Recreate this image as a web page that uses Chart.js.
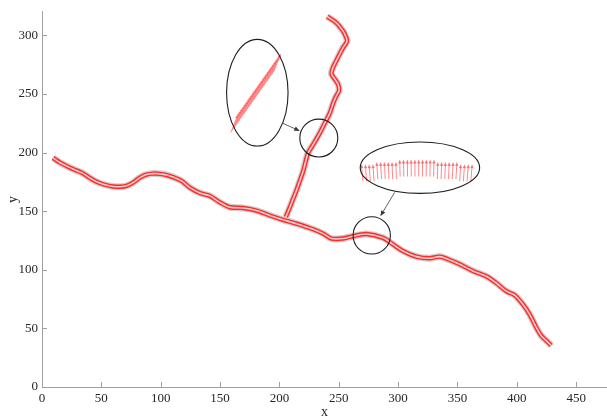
<!DOCTYPE html>
<html>
<head>
<meta charset="utf-8">
<script src="https://cdn.jsdelivr.net/npm/chart.js@4/dist/chart.umd.min.js"></script>
<style>
  html, body { margin: 0; padding: 0; background: #ffffff; }
  #c { display: block; }
</style>
</head>
<body>
<canvas id="c" width="607" height="419"></canvas>
<script>
// Main road centre line (x, y)
const mainRoadX = [9.3, 15, 20.8, 27, 33.4, 40, 46, 53, 60, 66, 71.3, 77, 82.5, 88, 93.7, 99, 105, 111, 117.6, 124.6, 133, 141.4, 149.8, 158.2, 169.4, 180.7, 192, 203, 214.4, 228.4, 236.8, 243.9, 253.6, 262, 273.3, 287.3, 295.7, 304, 315.4, 326.6, 335, 342, 351.9, 363, 374.3, 382.7, 391.2, 398.2, 405.2, 410.8, 416.4, 420.6, 424.8, 429];
const mainRoadY = [195.4, 191.5, 188.4, 185.5, 182.8, 178.5, 175, 172.5, 171, 170.8, 171.6, 174.5, 178.6, 181.2, 182, 181.8, 180.8, 178.8, 175.8, 170, 165.4, 163, 157.5, 153.3, 152.7, 150.5, 146.3, 142.6, 139.3, 134.5, 130.8, 126.6, 126.6, 128.6, 130.5, 127.2, 121.6, 116, 111.2, 109.8, 111.2, 109, 104.7, 99, 94.4, 88.7, 81.7, 78.3, 70.4, 62, 50.8, 43.8, 39.6, 35.4];

// Branch road centre line (x, y), from its junction northwards
const branchRoadX = [205.4, 208.5, 211.5, 214.5, 217.2, 220, 222.2, 224.2, 228.4, 234, 238.2, 242.4, 245.2, 247.5, 250.3, 249.5, 247.5, 243.9, 245.2, 248, 250.8, 253.7, 257, 255.5, 253.7, 248, 240.2];
const branchRoadY = [145, 152.5, 160.3, 168, 175.8, 184, 192.6, 199.7, 206.7, 216.5, 225, 233.4, 241.8, 247.3, 253, 258, 261.4, 267, 272.6, 278.3, 284, 289.5, 295, 300, 303.5, 310.6, 316];

// Axis ticks
const xTicks = [0, 50, 100, 150, 200, 250, 300, 350, 400, 450];
const yTicks = [0, 50, 100, 150, 200, 250, 300];

const toPoints = (xs, ys) => xs.map((x, i) => ({ x: x, y: ys[i] }));
const mainPts = toPoints(mainRoadX, mainRoadY);
const branchPts = toPoints(branchRoadX, branchRoadY);

// Road band: soft grey shadow underneath, red body, pale core on top
function roadLayers(pts) {
  const base = { data: pts, showLine: true, pointRadius: 0, tension: 0.3, fill: false, borderCapStyle: 'butt', borderJoinStyle: 'round' };
  return [
    Object.assign({}, base, { borderColor: 'rgba(150,150,150,0.45)', borderWidth: 7, order: 3 }),
    Object.assign({}, base, { borderColor: '#ff2a2a', borderWidth: 4.4, order: 2 }),
    Object.assign({}, base, { borderColor: '#ffcaca', borderWidth: 1.6, order: 1 })
  ];
}

// Callouts: circle on the road, magnified ellipse, connecting arrow (data units)
const callouts = [
  { circle: { x: 233.2, y: 212.3, r: 16 }, ellipse: { x: 181.4, y: 251, rx: 25.9, ry: 45.5 },
    arrowFrom: { x: 202.9, y: 224.9 }, arrowTo: { x: 217.2, y: 218.4 }, kind: 'diagonal' },
  { circle: { x: 277.8, y: 129.3, r: 15.7 }, ellipse: { x: 318.4, y: 187, rx: 50.3, ry: 21.9 },
    arrowFrom: { x: 297.1, y: 166 }, arrowTo: { x: 285.1, y: 145.7 }, kind: 'arch' }
];

function drawArrow(ctx, x0, y0, x1, y1, head, color, width) {
  const a = Math.atan2(y1 - y0, x1 - x0);
  ctx.strokeStyle = color;
  ctx.fillStyle = color;
  ctx.lineWidth = width;
  ctx.beginPath();
  ctx.moveTo(x0, y0);
  ctx.lineTo(x1 - Math.cos(a) * head * 0.6, y1 - Math.sin(a) * head * 0.6);
  ctx.stroke();
  ctx.beginPath();
  ctx.moveTo(x1, y1);
  ctx.lineTo(x1 - head * Math.cos(a - 0.4), y1 - head * Math.sin(a - 0.4));
  ctx.lineTo(x1 - head * Math.cos(a + 0.4), y1 - head * Math.sin(a + 0.4));
  ctx.closePath();
  ctx.fill();
}

const calloutPlugin = {
  id: 'callouts',
  afterDatasetsDraw(chart) {
    const ctx = chart.ctx;
    const xs = chart.scales.x, ys = chart.scales.y;
    const px = v => xs.getPixelForValue(v);
    const py = v => ys.getPixelForValue(v);
    const unitX = px(1) - px(0);
    const unitY = py(0) - py(1);
    ctx.save();
    callouts.forEach(c => {
      const ex = px(c.ellipse.x), ey = py(c.ellipse.y);
      const erx = c.ellipse.rx * unitX, ery = c.ellipse.ry * unitY;
      // magnified direction vectors inside the ellipse
      const red = 'rgba(255,90,90,0.8)';
      if (c.kind === 'arch') {
        const groups = [[4, 0], [6, 4], [10, 8.5], [6, 4], [4, 0]];
        let i = 0;
        const n = 30, step = 3.72, x0 = ex - 57;
        groups.forEach(g => {
          for (let k = 0; k < g[0]; k++) {
            const bx = x0 + i * step;
            const by = ey + 13.5 - g[1] * 0.55;
            const tilt = (i - n / 2) * 0.1;
            drawArrow(ctx, bx, by, bx + tilt, by - 17, 4.2, red, 0.9);
            i++;
          }
        });
      } else {
        const n = 27;
        const sx = ex - 23, sy = ey + 31, tx = ex + 20, ty = ey - 30;
        for (let i = 0; i < n; i++) {
          const t = i / (n - 1);
          const bx = sx + (tx - sx) * t, by = sy + (ty - sy) * t;
          drawArrow(ctx, bx - 3.5, by + 9, bx + 3.5, by - 9, 4, red, 0.85);
        }
      }
      ctx.strokeStyle = '#1e1e1e';
      ctx.lineWidth = 1.1;
      ctx.beginPath();
      ctx.ellipse(ex, ey, erx, ery, 0, 0, Math.PI * 2);
      ctx.stroke();
      ctx.beginPath();
      ctx.arc(px(c.circle.x), py(c.circle.y), c.circle.r * unitX, 0, Math.PI * 2);
      ctx.stroke();
      drawArrow(ctx, px(c.arrowFrom.x), py(c.arrowFrom.y), px(c.arrowTo.x), py(c.arrowTo.y), 6, '#3a3a3a', 0.8);
    });
    ctx.restore();
  },
  afterDraw(chart) {
    // inward tick marks
    const ctx = chart.ctx;
    const xs = chart.scales.x, ys = chart.scales.y;
    const area = chart.chartArea;
    ctx.save();
    ctx.strokeStyle = '#a0a0a0';
    ctx.lineWidth = 1;
    ctx.beginPath();
    xTicks.forEach(v => {
      const x = Math.round(xs.getPixelForValue(v)) + 0.5;
      ctx.moveTo(x, area.bottom);
      ctx.lineTo(x, area.bottom - 5);
    });
    yTicks.forEach(v => {
      const y = Math.round(ys.getPixelForValue(v)) + 0.5;
      ctx.moveTo(area.left, y);
      ctx.lineTo(area.left + 5, y);
    });
    ctx.stroke();
    ctx.restore();
  }
};

const serif = { family: '"Liberation Serif", "Times New Roman", serif', size: 13 };

new Chart(document.getElementById('c'), {
  type: 'scatter',
  data: { datasets: [...roadLayers(mainPts), ...roadLayers(branchPts)] },
  options: {
    responsive: false,
    animation: false,
    devicePixelRatio: 1,
    layout: { padding: { left: 0, right: 0, top: 8, bottom: 0 } },
    plugins: { legend: { display: false }, tooltip: { enabled: false } },
    scales: {
      x: {
        type: 'linear', min: 0, max: 476,
        afterBuildTicks: s => { s.ticks = xTicks.map(v => ({ value: v })); },
        afterFit: s => { s.height = 32; },
        border: { color: '#a0a0a0', width: 1 },
        grid: { display: true, drawOnChartArea: false, drawTicks: false },
        ticks: { font: serif, color: '#262626', padding: 4, maxRotation: 0, autoSkip: false },
        title: { display: true, text: 'x', font: { family: serif.family, size: 14, lineHeight: 1.0 }, color: '#262626', padding: { top: 0, bottom: 0 } }
      },
      y: {
        type: 'linear', min: 0, max: 320,
        afterBuildTicks: s => { s.ticks = yTicks.map(v => ({ value: v })); },
        afterFit: s => { s.width = 42; },
        border: { color: '#a0a0a0', width: 1 },
        grid: { display: true, drawOnChartArea: false, drawTicks: false },
        ticks: { font: serif, color: '#262626', padding: 4, autoSkip: false },
        title: { display: true, text: 'y', font: { family: serif.family, size: 14 }, color: '#262626', padding: { top: 5, bottom: 0 } }
      }
    }
  },
  plugins: [calloutPlugin]
});
</script>
</body>
</html>
